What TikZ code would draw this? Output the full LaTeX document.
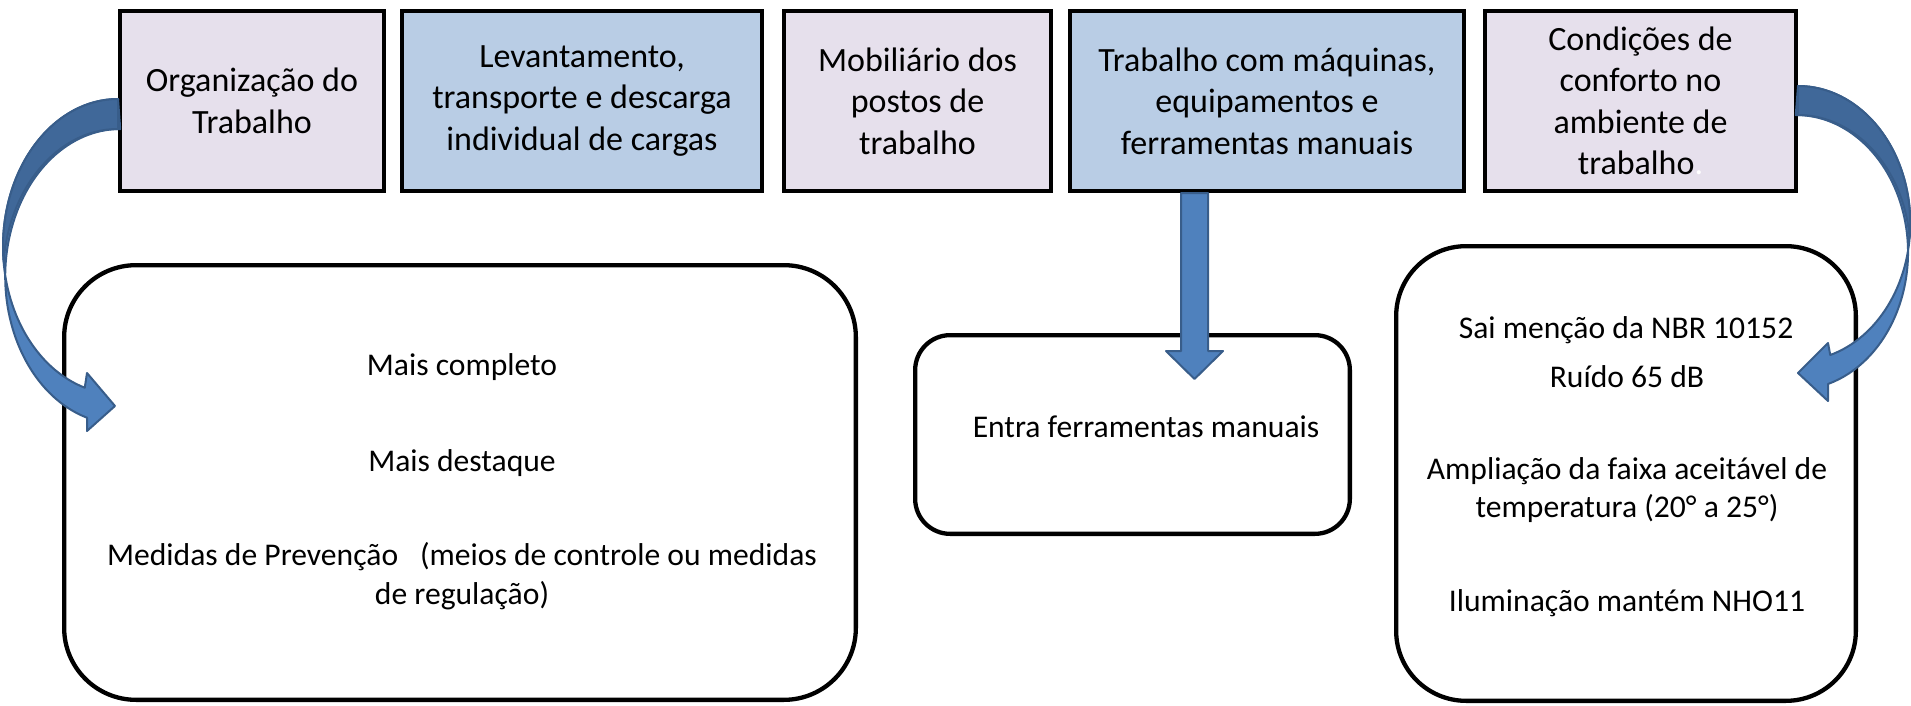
\documentclass[tikz,border=0pt]{standalone}
\usepackage{fontspec}
\setmainfont{Carlito}
\usepackage{tikz}
\usepackage{xcolor}
\definecolor{lav}{RGB}{230,224,236}
\definecolor{lblue}{RGB}{185,205,229}
\definecolor{arrblue}{RGB}{79,129,189}
\definecolor{arrback}{RGB}{64,104,153}
\definecolor{arrline}{RGB}{56,93,138}

\begin{document}
\begin{tikzpicture}[x=1pt, y=-1pt,
  topbox/.style={draw, line width=4.3pt, inner sep=2pt, minimum height=179.7pt, align=center, font=\fontsize{34}{41.5}\selectfont},
  roundbox/.style={draw, line width=4.3pt, rounded corners=#1},
  txt/.style={align=center, inner sep=0pt, font=\fontsize{31.6}{38.5}\selectfont},
  band/.style={fill=arrblue, draw=arrline, line width=2pt, line join=round},
  backband/.style={fill=arrback, draw=arrline, line width=2pt, line join=round}]

\useasboundingbox (0,0) rectangle (1911,706);

\node[roundbox=72pt, minimum width=791.7pt, minimum height=434.7pt] (left) at (460,482.5) {};
\node[roundbox=35pt, minimum width=434.7pt, minimum height=198.7pt] (mid) at (1132.5,434.5) {};
\node[roundbox=70pt, minimum width=459.7pt, minimum height=454.7pt] (right) at (1626,473.5) {};

\node[topbox, fill=lav, minimum width=263.7pt] (org) at (252,101) {Organização do\\Trabalho};
\node[topbox, fill=lblue, minimum width=359.7pt] (lev) at (582,101) {Levantamento,\\transporte e descarga\\individual de cargas};
\node[topbox, fill=lav, minimum width=266.7pt] (mob) at (917.5,101) {Mobiliário dos\\postos de\\trabalho};
\node[topbox, fill=lblue, minimum width=393.7pt] (maq) at (1267,101) {Trabalho com máquinas,\\equipamentos e\\ferramentas manuais};
\node[topbox, fill=lav, minimum width=310.7pt] (conf) at (1640.5,101) {Condições de\\conforto no\\ambiente de\\trabalho\textcolor{white}{.}};

\node[txt] (comp) at (462,367) {Mais completo};
\node[txt] (dest) at (462,463) {Mais destaque};
\node[txt] (prev) at (462,576) {Medidas de Prevenção\hspace*{22pt}(meios de controle ou medidas\\de regulação)};

\node[txt] (ferr) at (1146,427) {Entra ferramentas manuais};

\node[txt] (nbr) at (1626,330) {Sai menção da NBR 10152};
\node[txt] (ruido) at (1627,377) {Ruído 65 dB};
\node[txt] (temp) at (1627,490) {Ampliação da faixa aceitável de\\temperatura (20° a 25°)};
\node[txt] (ilum) at (1627,603) {Iluminação mantém NHO11};

\coordinate (lefttip) at (115,406);
\coordinate (righttip) at (1798,373);
\coordinate (midtip) at (1194.5,379);

\path[band] ([yshift=2pt]org.west) arc[start angle=270, end angle=106.8, x radius=115, y radius=147.5]
  -- (87,373) -- (lefttip) -- (87,431) -- (87,417.7)
  arc[start angle=106.8, end angle=270, x radius=115, y radius=147.5] -- cycle;
\path[backband] ([yshift=2pt]org.west) arc[start angle=270, end angle=174.16, x radius=115, y radius=147.5]
  arc[start angle=185.84, end angle=270, x radius=115, y radius=147.5] -- cycle;

\path[band] ([yshift=15pt]conf.east) arc[start angle=-90, end angle=73.3, x radius=112.25, y radius=137.4]
  -- (1828,343) -- (righttip) -- (1828,401) -- (1828,384)
  arc[start angle=73.3, end angle=-90, x radius=112.25, y radius=137.4] -- cycle;
\path[backband] ([yshift=15pt]conf.east) arc[start angle=-90, end angle=6.06, x radius=112.25, y radius=137.4]
  arc[start angle=-6.06, end angle=-90, x radius=112.25, y radius=137.4] -- cycle;

\path[band] ([xshift=-86pt]maq.south) -- ([xshift=-59pt]maq.south) -- (1208,351) -- (1223,351)
  -- (midtip) -- (1166,351) -- (1181,351) -- cycle;

\end{tikzpicture}
\end{document}
